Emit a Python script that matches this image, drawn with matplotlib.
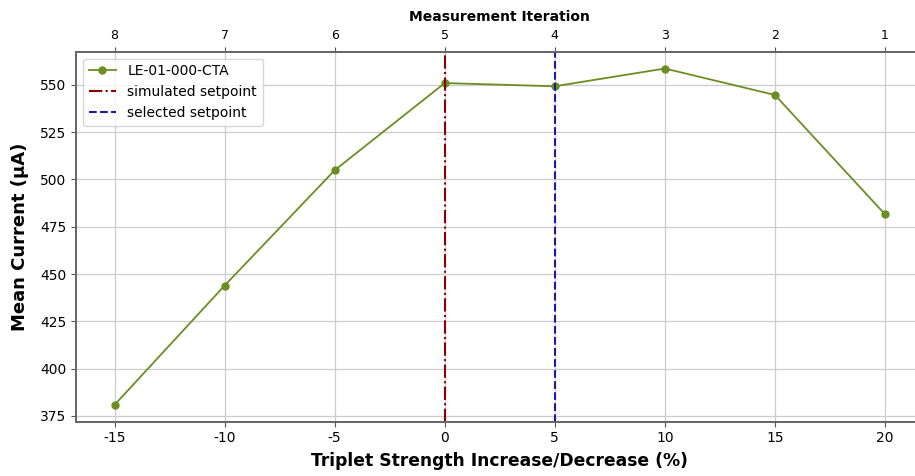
import numpy as np
import matplotlib.pyplot as plt

# triplet strength change (%) vs. mean current
strength = [-15, -10, -5, 0, 5, 10, 15, 20]
current = [380.8, 443.9, 504.9, 551.0, 549.3, 558.7, 544.7, 481.6]
iteration = ['8', '7', '6', '5', '4', '3', '2', '1']
sim_setpoint = 0
sel_setpoint = 5

fig = plt.figure(figsize=(9.15, 4.76), dpi=100)
ax = fig.add_axes([0.0831, 0.1141, 0.9262, 0.7773])

ax.plot(strength, current, color='#6b8e23', marker='o', markersize=5,
        linewidth=1.3, label='LE-01-000-CTA')
ax.axvline(sim_setpoint, color='#8b0000', linestyle='-.', linewidth=1.5,
           label='simulated setpoint')
ax.axvline(sel_setpoint, color='#1a1aa6', linestyle='--', linewidth=1.5,
           label='selected setpoint')

ax.set_xticks(strength)
ax.set_xticklabels([str(s) for s in strength])
ax.set_yticks(np.arange(375, 551, 25))
ax.tick_params(labelsize=10, color='#555555')
ax.grid(True, color='#cccccc', linewidth=0.9)
ax.set_axisbelow(True)
for s in ax.spines.values():
    s.set_color('#666666')
    s.set_linewidth(1.3)

ax.set_xlabel('Triplet Strength Increase/Decrease (%)', fontsize=12.3,
              fontweight='bold', labelpad=5)
ax.set_ylabel('Mean Current (µA)', fontsize=13, fontweight='bold', labelpad=8)

ax2 = ax.twiny()
ax2.set_xlim(ax.get_xlim())
ax2.set_xticks(strength)
ax2.set_xticklabels(iteration)
ax2.tick_params(labelsize=9, color='#555555')
ax2.set_xlabel('Measurement Iteration', fontsize=10, fontweight='bold', labelpad=6)
for s in ax2.spines.values():
    s.set_color('#666666')
    s.set_linewidth(1.3)

ax.legend(loc='upper left', fontsize=10, framealpha=0.8)

fig.savefig('out.png', dpi=100)
